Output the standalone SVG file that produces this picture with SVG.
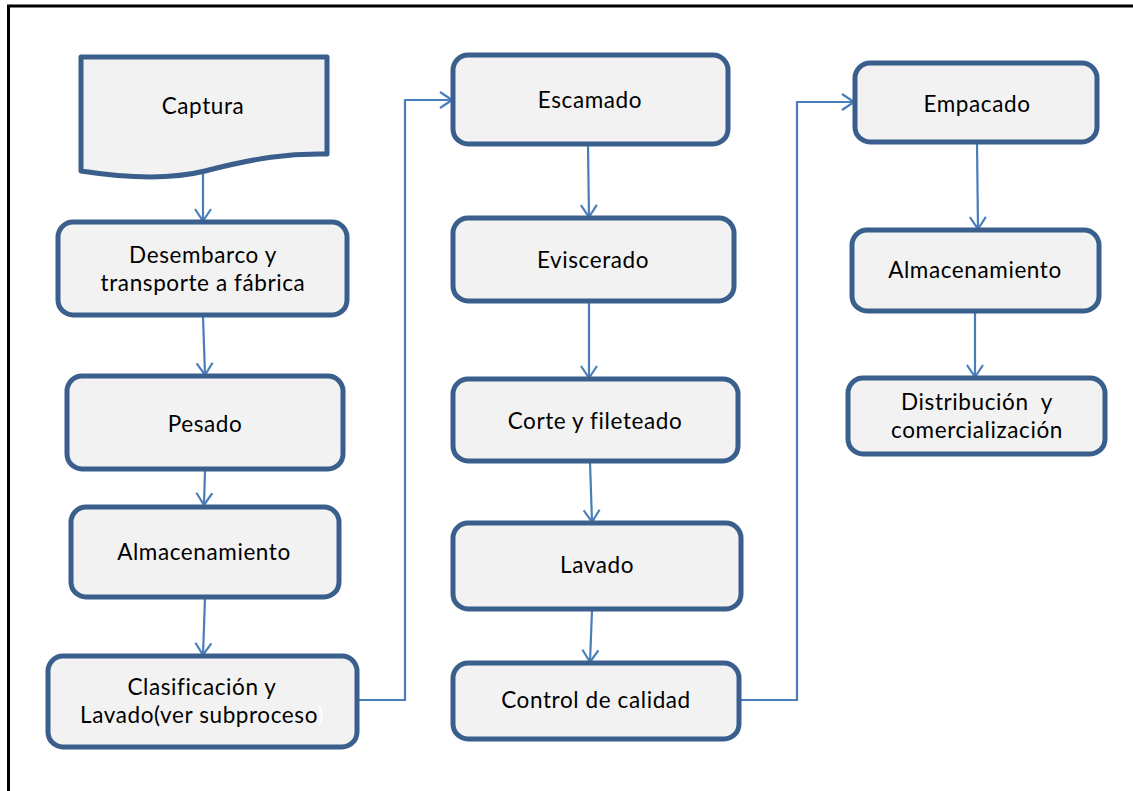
<svg xmlns="http://www.w3.org/2000/svg" width="1133" height="791" viewBox="0 0 1133 791">
  <style>
    .box { fill: #f2f2f2; stroke: #3b5f8d; stroke-width: 5; stroke-linejoin: round; }
    .lbl { font-family: Lato, "Open Sans", "Liberation Sans", sans-serif; font-size: 22.5px; letter-spacing: 0.6px; fill: #000; text-anchor: middle; }
    .con { fill: none; stroke: #4a7ebb; stroke-width: 2.2; }
  </style>
  <defs>
    <marker id="arrow" viewBox="0 0 14 18" refX="13" refY="9" markerWidth="14" markerHeight="18" markerUnits="userSpaceOnUse" orient="auto">
      <path d="M1,1 L13,9 L1,17" fill="none" stroke="#4a7ebb" stroke-width="2.2" stroke-linejoin="miter"/>
    </marker>
  </defs>

  <rect width="1133" height="791" fill="#ffffff"/>
  <!-- page frame (top and left edges) -->
  <path d="M8.5,791 V6 H1133" fill="none" stroke="#000" stroke-width="3"/>

  <!-- connectors -->
  <g id="connectors">
    <path class="con" d="M203,172 V221" marker-end="url(#arrow)"/>
    <path class="con" d="M203,316 L205,375" marker-end="url(#arrow)"/>
    <path class="con" d="M205,470 L204,505" marker-end="url(#arrow)"/>
    <path class="con" d="M205,598 L203,655" marker-end="url(#arrow)"/>
    <path class="con" d="M359,700 H405 V100 H452" marker-end="url(#arrow)"/>
    <path class="con" d="M588,145 L589,217" marker-end="url(#arrow)"/>
    <path class="con" d="M589,302 V378" marker-end="url(#arrow)"/>
    <path class="con" d="M590,462 L592,522" marker-end="url(#arrow)"/>
    <path class="con" d="M592,610 L590,662" marker-end="url(#arrow)"/>
    <path class="con" d="M741,700 H797 V102 H854" marker-end="url(#arrow)"/>
    <path class="con" d="M977,143 L978,229" marker-end="url(#arrow)"/>
    <path class="con" d="M975,312 V377" marker-end="url(#arrow)"/>
  </g>

  <!-- column 1 -->
  <g id="captura">
    <path class="box" d="M81,57 H327 V154 C290,153 255,158 205,171 C165,181 120,177 81,171 Z"/>
    <text class="lbl" x="203" y="114">Captura</text>
  </g>
  <g id="desembarco">
    <rect class="box" x="58" y="222" width="289" height="93" rx="15"/>
    <text class="lbl" x="203" y="262.5">Desembarco y</text>
    <text class="lbl" x="203" y="290.5">transporte a fábrica</text>
  </g>
  <g id="pesado">
    <rect class="box" x="67" y="376" width="276" height="93" rx="15"/>
    <text class="lbl" x="205" y="432">Pesado</text>
  </g>
  <g id="almacenamiento-1">
    <rect class="box" x="71" y="507" width="268" height="90" rx="15"/>
    <text class="lbl" x="204" y="560">Almacenamiento</text>
  </g>
  <g id="clasificacion">
    <rect class="box" x="48" y="656" width="309" height="91" rx="15"/>
    <text class="lbl" x="202" y="694.5">Clasificación y</text>
    <text class="lbl" x="202" y="722.5">Lavado(ver subproceso<tspan fill="#ffffff">)</tspan></text>
  </g>

  <!-- column 2 -->
  <g id="escamado">
    <rect class="box" x="453" y="55" width="275" height="89" rx="15"/>
    <text class="lbl" x="590" y="108">Escamado</text>
  </g>
  <g id="eviscerado">
    <rect class="box" x="453" y="218" width="281" height="83" rx="15"/>
    <text class="lbl" x="593" y="268">Eviscerado</text>
  </g>
  <g id="corte">
    <rect class="box" x="453" y="379" width="285" height="82" rx="15"/>
    <text class="lbl" x="595" y="429">Corte y fileteado</text>
  </g>
  <g id="lavado">
    <rect class="box" x="453" y="523" width="288" height="86" rx="15"/>
    <text class="lbl" x="597" y="573">Lavado</text>
  </g>
  <g id="control">
    <rect class="box" x="453" y="663" width="286" height="76" rx="15"/>
    <text class="lbl" x="596" y="708">Control de calidad</text>
  </g>

  <!-- column 3 -->
  <g id="empacado">
    <rect class="box" x="855" y="63" width="242" height="79" rx="15"/>
    <text class="lbl" x="977" y="112">Empacado</text>
  </g>
  <g id="almacenamiento-2">
    <rect class="box" x="852" y="230" width="247" height="81" rx="15"/>
    <text class="lbl" x="975" y="278">Almacenamiento</text>
  </g>
  <g id="distribucion">
    <rect class="box" x="848" y="378" width="257" height="76" rx="15"/>
    <text class="lbl" x="977" y="409.5" xml:space="preserve">Distribución  y</text>
    <text class="lbl" x="977" y="437.5">comercialización</text>
  </g>
</svg>
